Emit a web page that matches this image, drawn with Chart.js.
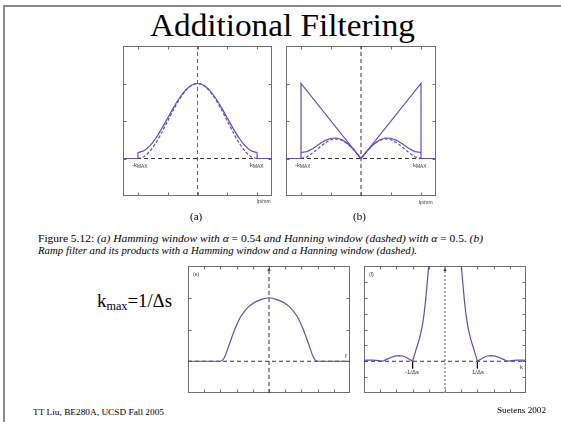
<!DOCTYPE html>
<html><head><meta charset="utf-8">
<script src="https://cdn.jsdelivr.net/npm/chart.js@4.4.0/dist/chart.umd.min.js"></script>
<style>
html,body{margin:0;padding:0;background:#fff;}
#slide{position:relative;width:561px;height:422px;overflow:hidden;background:#fff;}
.t{position:absolute;white-space:nowrap;line-height:1;color:#000;transform-origin:0 0;}
.serif{font-family:"Liberation Serif","Times New Roman","DejaVu Serif",serif;}
.sans{font-family:"Liberation Sans",Arial,sans-serif;color:#333;}
.it{font-style:italic;}
canvas{position:absolute;}
sub{font-size:80%;vertical-align:baseline;position:relative;top:0.3em;}
</style></head><body>
<div id="slide">
  <div style="position:absolute;left:3px;top:5px;width:558px;height:2px;background:#8a8a8a"></div>
  <div style="position:absolute;left:3px;top:5px;width:2px;height:417px;background:#8a8a8a"></div>

  <div class="t serif" data-w="265" style="left:150px;top:9px;font-size:32px;">Additional Filtering</div>

  <canvas id="cA"></canvas>
  <canvas id="cB"></canvas>
  <canvas id="cE"></canvas>
  <canvas id="cF"></canvas>

  <div class="t sans" style="left:132px;top:162px;font-size:6px;">-k<sub>MAX</sub></div>
  <div class="t sans" style="left:250px;top:162px;font-size:6px;">k<sub>MAX</sub></div>
  <div class="t sans" style="left:257px;top:199px;font-size:5px;">lp/mm</div>
  <div class="t sans" style="left:295px;top:162px;font-size:6px;">-k<sub>MAX</sub></div>
  <div class="t sans" style="left:413px;top:162px;font-size:6px;">k<sub>MAX</sub></div>
  <div class="t sans" style="left:419px;top:200px;font-size:5px;">lp/mm</div>

  <div class="t serif" style="left:190px;top:211px;font-size:11px;">(a)</div>
  <div class="t serif" style="left:353px;top:211px;font-size:11px;">(b)</div>

  <div class="t serif" data-w="445" style="left:38px;top:234px;font-size:10px;">Figure 5.12: <span class="it">(a) Hamming window with α</span> = 0.54 <span class="it">and Hanning window (dashed) with α</span> = 0.5. <span class="it">(b)</span></div>
  <div class="t serif it" data-w="379" style="left:38px;top:246px;font-size:10px;">Ramp filter and its products with a Hamming window and a Hanning window (dashed).</div>

  <div class="t serif" data-w="75" style="left:97px;top:291px;font-size:19px;">k<sub style="font-size:65%;top:0.25em">max</sub>=1/Δs</div>

  <div class="t sans" style="left:193px;top:272px;font-size:5px;">(e)</div>
  <div class="t sans" style="left:345px;top:353px;font-size:6px;">f</div>
  <div class="t sans" style="left:369px;top:272px;font-size:5px;">(f)</div>
  <div class="t sans" style="left:520px;top:364px;font-size:6px;">k</div>
  <div class="t sans" style="left:405px;top:369px;font-size:6px;">-1/Δs</div>
  <div class="t sans" style="left:472px;top:369px;font-size:6px;">1/Δs</div>

  <div class="t serif" data-w="131" style="left:33px;top:408px;font-size:8.5px;">TT Liu, BE280A, UCSD Fall 2005</div>
  <div class="t serif" data-w="49" style="left:497px;top:406px;font-size:8.5px;">Suetens 2002</div>
</div>
<script>
// ---------- data ----------
// top panels: k in units of k_MAX
const kWin = [-1,-0.9,-0.8,-0.7,-0.6,-0.5,-0.4,-0.3,-0.2,-0.1,0,0.1,0.2,0.3,0.4,0.5,0.6,0.7,0.8,0.9,1];
const hamming = [0.08,0.1025,0.1678,0.2696,0.3979,0.54,0.6821,0.8104,0.9122,0.9775,1,0.9775,0.9122,0.8104,0.6821,0.54,0.3979,0.2696,0.1678,0.1025,0.08];
const hanning = [0,0.0245,0.0955,0.2061,0.3455,0.5,0.6545,0.7939,0.9045,0.9755,1,0.9755,0.9045,0.7939,0.6545,0.5,0.3455,0.2061,0.0955,0.0245,0];
const rampHamming = [0.08,0.0923,0.1342,0.1887,0.2387,0.27,0.2728,0.2431,0.1824,0.0978,0,0.0978,0.1824,0.2431,0.2728,0.27,0.2387,0.1887,0.1342,0.0923,0.08];
const rampHanning = [0,0.0221,0.0764,0.1443,0.2073,0.25,0.2618,0.2382,0.1809,0.0976,0,0.0976,0.1809,0.2382,0.2618,0.25,0.2073,0.1443,0.0764,0.0221,0];
const kEdgeL = [-1.25,-1,-1];
const hammingEdgeL = [0,0,0.08];
const kEdgeR = [1,1,1.25];
const hammingEdgeR = [0.08,0,0];
const kRamp = [-1.25,-1,-1,0,1,1,1.25];
const ramp = [0,0,1,0,1,0,0];
// bottom panels
const xE = [-5,-3,-2.75,-2.5,-2.25,-2,-1.75,-1.5,-1.25,-1,-0.5,0,0.5,1,1.25,1.5,1.75,2,2.25,2.5,2.75,3,5];
const yE = [0,0,0.06,0.23,0.41,0.57,0.70,0.79,0.86,0.91,0.97,1,0.97,0.91,0.86,0.79,0.70,0.57,0.41,0.23,0.06,0,0];
const xF = [-5,-4.75,-4.5,-4.25,-4,-3.85,-3.6,-3.35,-3.1,-2.85,-2.6,-2.35,-2.2,-2,-1.9,-1.75,-1.6,-1.5,-1.4,-1.3,-1.2,-1.1,-1,-0.9,-0.7,-0.4,0,0.4,0.7,0.9,1,1.1,1.2,1.3,1.4,1.5,1.6,1.75,1.9,2,2.2,2.35,2.6,2.85,3.1,3.35,3.6,3.85,4,4.25,4.5,4.75,5];
const yF = [0.06,0.07,0.07,0.05,0.02,0,0.12,0.24,0.32,0.36,0.33,0.22,0.12,0,0.35,0.85,1.35,1.75,2.25,2.9,3.8,4.9,6.1,7.5,10,13,15,13,10,7.5,6.1,4.9,3.8,2.9,2.25,1.75,1.35,0.85,0.35,0,0.12,0.22,0.33,0.36,0.32,0.24,0.12,0,0.02,0.05,0.07,0.07,0.06];
const xMarkF = [-2, 2];
// tick values
const xTicksAB = [-1,-0.5,0,0.5,1];
const yTicksAB = [0,0.5,1];
const xTicksEF = [-4,-3,-2,-1,0,1,2,3,4];
const yTicksE = [0,0.5,1];
const yTicksF = [-1,0,1,2,3,4,5];

// ---------- drawing ----------
const PURPLE = '#5f4cc2';
function pts(xs, ys){ return xs.map((x,i)=>({x:x, y:ys[i]})); }
function line(data, color, o){ return Object.assign({data:data, borderColor:color, borderWidth:1.2, pointRadius:0, fill:false, tension:0}, o||{}); }

const framePlugin = {
  id:'frame',
  beforeDatasetsDraw(chart, args, opts){
    const ctx = chart.ctx, a = chart.chartArea, x = chart.scales.x, y = chart.scales.y;
    ctx.save();
    ctx.strokeStyle = '#6e6e6e'; ctx.lineWidth = 1;
    const L = Math.round(a.left)+0.5, R = Math.round(a.right)-0.5, T = Math.round(a.top)+0.5, B = Math.round(a.bottom)-0.5;
    ctx.strokeRect(L, T, R-L, B-T);
    const tl = 3;
    ctx.beginPath();
    (opts.xTicks||[]).forEach(v => { const p = Math.round(x.getPixelForValue(v))+0.5; ctx.moveTo(p,T); ctx.lineTo(p,T+tl); ctx.moveTo(p,B); ctx.lineTo(p,B-tl); });
    (opts.yTicks||[]).forEach(v => { const p = Math.round(y.getPixelForValue(v))+0.5; ctx.moveTo(L,p); ctx.lineTo(L+tl,p); ctx.moveTo(R,p); ctx.lineTo(R-tl,p); });
    ctx.stroke();
    ctx.restore();
  }
};

function makeChart(id, box, xr, yr, ticks, datasets){
  const pad = 4;
  const c = document.getElementById(id);
  c.width = box.w + 2*pad; c.height = box.h + 2*pad;
  c.style.left = (box.x - pad) + 'px'; c.style.top = (box.y - pad) + 'px';
  c.style.width = c.width + 'px'; c.style.height = c.height + 'px';
  return new Chart(c, {
    type:'line',
    data:{datasets:datasets},
    options:{
      responsive:false, animation:false, devicePixelRatio:1, events:[],
      layout:{padding:pad},
      scales:{
        x:{type:'linear', min:xr[0], max:xr[1], display:false},
        y:{type:'linear', min:yr[0], max:yr[1], display:false}
      },
      plugins:{legend:{display:false}, tooltip:{enabled:false}, frame:ticks}
    },
    plugins:[framePlugin]
  });
}

const dashBlack = {borderColor:'#333', borderWidth:1, borderDash:[4,3]};
const dashGrey = {borderColor:'#666', borderWidth:1, borderDash:[4,3]};

// (a)
makeChart('cA', {x:123, y:46, w:149, h:150}, [-1.25,1.25], [-0.5,1.5], {xTicks:xTicksAB, yTicks:yTicksAB}, [
  line(pts(kWin, hamming), PURPLE, {tension:0.3}),
  line(pts(kWin, hanning), PURPLE, {tension:0.3, borderDash:[3,2]}),
  line(pts(kEdgeL, hammingEdgeL), PURPLE),
  line(pts(kEdgeR, hammingEdgeR), PURPLE),
  line(pts([-1.25,1.25],[0,0]), null, dashBlack),
  line(pts([0,0],[-0.5,1.5]), null, dashGrey)
]);
// (b)
makeChart('cB', {x:286, y:46, w:150, h:150}, [-1.25,1.25], [-0.5,1.5], {xTicks:xTicksAB, yTicks:yTicksAB}, [
  line(pts(kRamp, ramp), PURPLE),
  line(pts(kWin, rampHamming), PURPLE),
  line(pts(kWin, rampHanning), PURPLE, {borderDash:[3,2]}),
  line(pts([-1.25,1.25],[0,0]), null, dashBlack),
  line(pts([0,0],[-0.5,1.5]), null, dashBlack)
]);
// (e)
makeChart('cE', {x:188, y:266, w:162, h:127}, [-5,5], [-0.5,1.5], {xTicks:xTicksEF, yTicks:yTicksE}, [
  line(pts(xE, yE), PURPLE, {cubicInterpolationMode:'monotone'}),
  line(pts([-5,5],[0,0]), null, dashBlack),
  line(pts([0,0],[-0.5,1.5]), null, dashBlack),
  {data:[{x:0,y:1.44}], showLine:false, pointStyle:'triangle', pointRadius:2, backgroundColor:'#333', borderColor:'#333', borderWidth:0}
]);
// (f)
makeChart('cF', {x:364, y:266, w:162, h:127}, [-5,5], [-2,6], {xTicks:xTicksEF, yTicks:yTicksF}, [
  line(pts(xF, yF), PURPLE),
  line(pts([xMarkF[0],xMarkF[0]],[0,-0.45]), '#000', {borderWidth:1}),
  line(pts([xMarkF[1],xMarkF[1]],[0,-0.45]), '#000', {borderWidth:1}),
  line(pts([-5,5],[0,0]), null, dashBlack),
  line(pts([0,0],[-2,6]), null, {borderColor:'#9a9a9a', borderWidth:1.6, borderDash:[2,2]}),
  {data:[{x:0,y:5.75}], showLine:false, pointStyle:'triangle', pointRadius:2, backgroundColor:'#333', borderColor:'#333', borderWidth:0}
]);

// fit text widths
document.querySelectorAll('[data-w]').forEach(el => {
  const w = el.getBoundingClientRect().width;
  const s = parseFloat(el.dataset.w) / w;
  el.style.transform = 'scaleX(' + s.toFixed(4) + ')';
});
</script>
</body></html>
